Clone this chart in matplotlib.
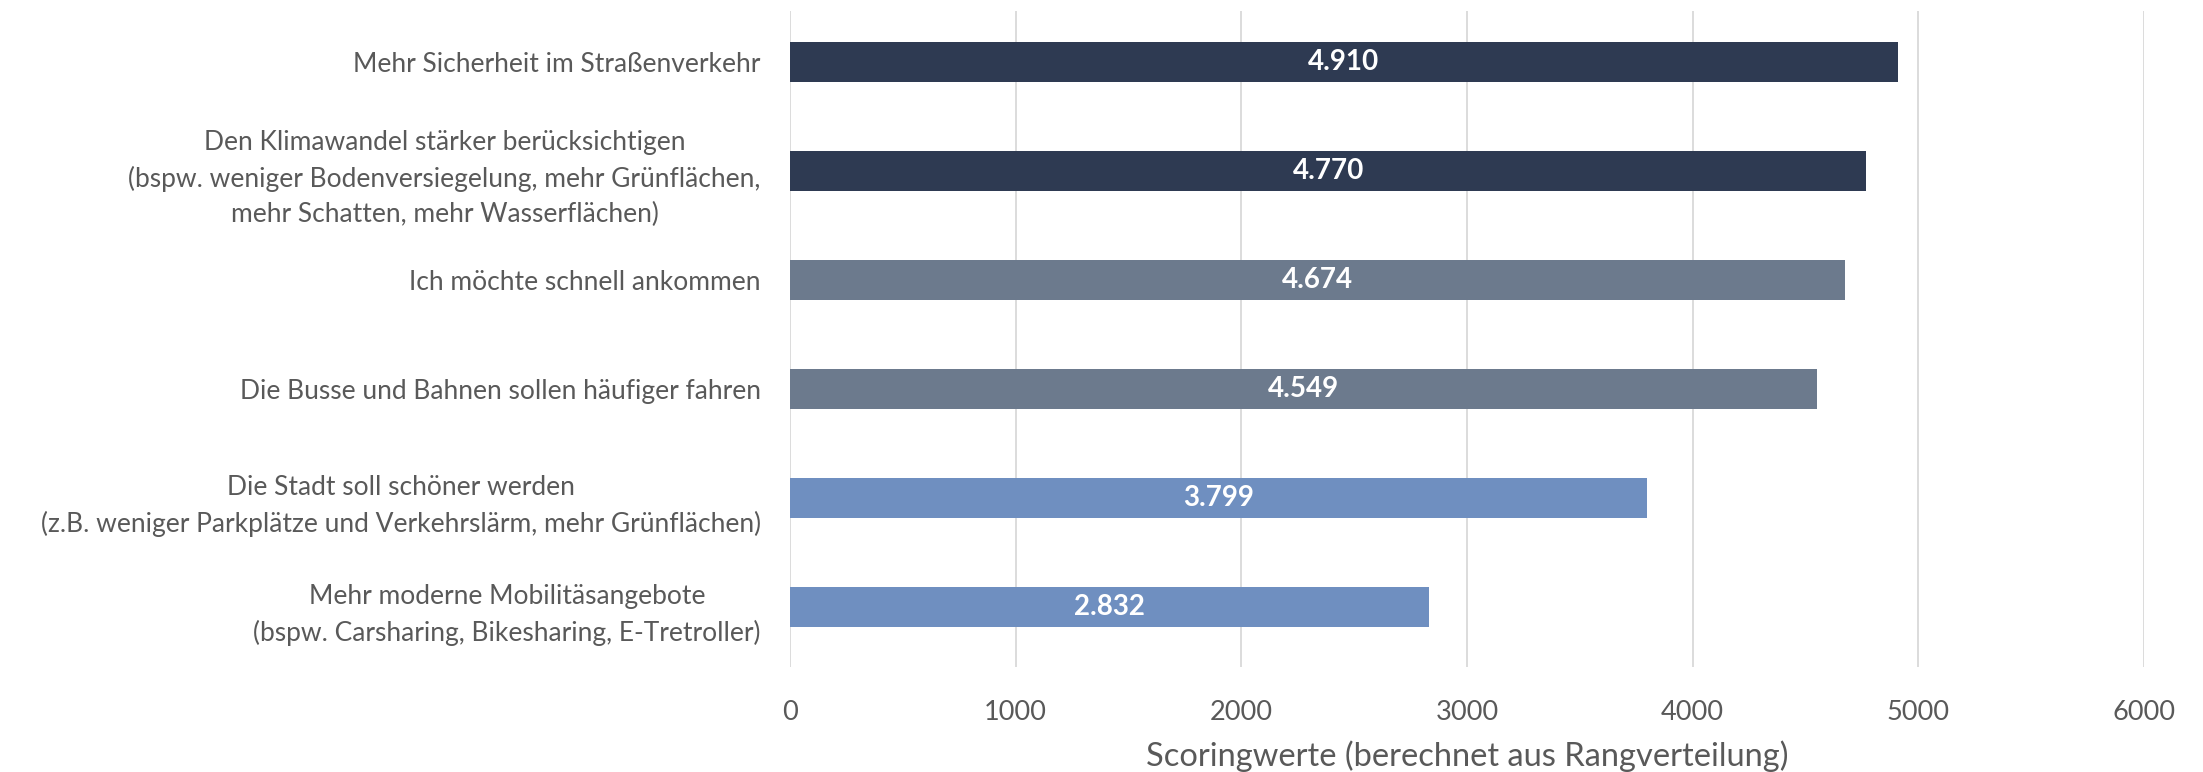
import matplotlib.pyplot as plt

# Daten (von oben nach unten)
kategorien = [
    'Mehr Sicherheit im Straßenverkehr',
    'Den Klimawandel stärker berücksichtigen\n(bspw. weniger Bodenversiegelung, mehr Grünflächen,\nmehr Schatten, mehr Wasserflächen)',
    'Ich möchte schnell ankommen',
    'Die Busse und Bahnen sollen häufiger fahren',
    'Die Stadt soll schöner werden\n(z.B. weniger Parkplätze und Verkehrslärm, mehr Grünflächen)',
    'Mehr moderne Mobilitäsangebote\n(bspw. Carsharing, Bikesharing, E-Tretroller)',
]
werte = [4910, 4770, 4674, 4549, 3799, 2832]
farben = ['#2E3A52', '#2E3A52', '#6C7A8D', '#6C7A8D', '#6F8FC0', '#6F8FC0']
x_ticks = [0, 1000, 2000, 3000, 4000, 5000, 6000]

plt.rcParams['font.family'] = ['Lato', 'DejaVu Sans']

fig = plt.figure(figsize=(22.03, 7.72), dpi=100)
ax = fig.add_axes([0.3586, 0.136, 0.6146, 0.850])

pos = list(range(len(werte)))
ax.barh(pos, werte, height=0.36, color=farben, zorder=3)

for p, w in zip(pos, werte):
    txt = f'{w:,}'.replace(',', '.')
    ax.text(w / 2, p, txt, ha='center', va='center', color='white',
            fontsize=20, fontweight='bold', zorder=4)

ax.set_yticks(pos)
ax.set_yticklabels(kategorien, fontsize=19, color='#595959',
                   linespacing=1.5, multialignment='center')
ax.tick_params(axis='y', length=0, pad=21)

ax.set_ylim(5.55, -0.47)
ax.set_xlim(0, 6000)
ax.set_xticks(x_ticks)
ax.set_xticklabels([str(t) for t in x_ticks], fontsize=19.5, color='#595959')
ax.tick_params(axis='x', length=0, pad=24)
ax.set_xlabel('Scoringwerte (berechnet aus Rangverteilung)', fontsize=23.5,
              color='#595959', labelpad=11)

ax.grid(axis='x', color='#D9D9D9', linewidth=1.3, zorder=0)
for s in ax.spines.values():
    s.set_visible(False)

fig.savefig('out.png', dpi=100)
